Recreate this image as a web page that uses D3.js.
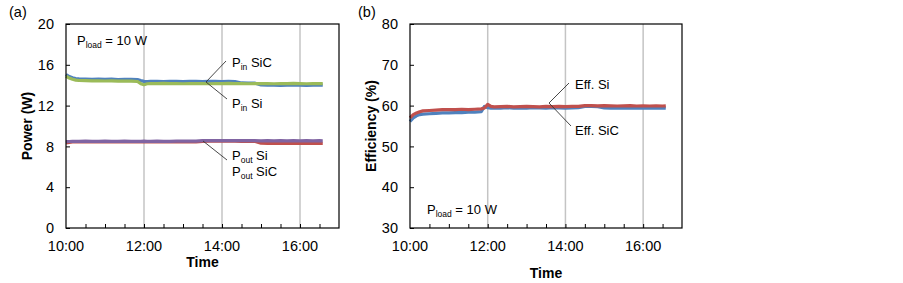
<!DOCTYPE html>
<html><head><meta charset="utf-8">
<script src="https://cdn.jsdelivr.net/npm/d3@7"></script>
<style>
body{margin:0;background:#fff;}
svg{font-family:"Liberation Sans",Arial,sans-serif;}
</style></head><body>
<svg id="c" width="903" height="283"></svg>
<script>
const times = ["10:00","10:05","10:10","10:15","10:20","10:30","10:40","10:50","11:00","11:10","11:20","11:30","11:40","11:50","11:55","12:00","12:05","12:10","12:20","12:30","12:40","12:50","13:00","13:10","13:20","13:30","13:40","13:50","14:00","14:10","14:20","14:30","14:40","14:50","15:00","15:10","15:20","15:30","15:40","15:50","16:00","16:10","16:20","16:30","16:35"];
const pinSiC = [15.05,14.85,14.72,14.66,14.62,14.60,14.58,14.60,14.57,14.59,14.56,14.58,14.57,14.55,14.45,14.38,14.36,14.38,14.37,14.36,14.38,14.37,14.36,14.37,14.38,14.36,14.37,14.38,14.36,14.37,14.36,14.22,14.20,14.21,14.02,14.00,14.01,13.99,14.00,14.01,14.00,13.99,14.01,14.00,14.00];
const pinSi  = [14.90,14.70,14.58,14.50,14.46,14.44,14.42,14.43,14.41,14.42,14.40,14.41,14.40,14.36,14.15,14.05,14.14,14.16,14.15,14.17,14.15,14.16,14.14,14.15,14.16,14.15,14.14,14.16,14.15,14.17,14.15,14.16,14.14,14.15,14.16,14.15,14.14,14.16,14.15,14.17,14.15,14.14,14.16,14.15,14.15];
const poutSi  = [8.35,8.40,8.44,8.45,8.45,8.46,8.45,8.44,8.45,8.46,8.45,8.45,8.44,8.45,8.45,8.46,8.45,8.45,8.44,8.45,8.46,8.45,8.45,8.44,8.45,8.50,8.52,8.51,8.52,8.51,8.52,8.50,8.51,8.50,8.31,8.30,8.31,8.30,8.30,8.31,8.30,8.30,8.31,8.30,8.30];
const poutSiC = [8.46,8.48,8.50,8.50,8.50,8.51,8.50,8.50,8.51,8.50,8.50,8.51,8.50,8.50,8.50,8.51,8.50,8.50,8.51,8.50,8.50,8.51,8.52,8.51,8.52,8.56,8.57,8.56,8.56,8.57,8.56,8.56,8.57,8.56,8.55,8.56,8.55,8.56,8.55,8.56,8.55,8.56,8.55,8.56,8.55];
const effSi  = [57.0,57.8,58.2,58.5,58.7,58.8,58.9,59.0,59.0,59.0,59.1,59.0,59.1,59.2,59.4,60.3,59.8,59.7,59.75,59.8,59.7,59.75,59.8,59.75,59.7,59.8,59.75,59.8,59.75,59.8,59.8,60.0,60.0,59.95,60.0,59.95,59.9,59.95,60.0,59.9,59.95,59.9,59.95,59.9,59.95];
const effSiC = [56.1,57.0,57.5,57.8,57.9,58.0,58.1,58.2,58.2,58.3,58.3,58.4,58.4,58.5,59.8,59.5,59.4,59.45,59.4,59.5,59.4,59.45,59.4,59.5,59.45,59.4,59.5,59.45,59.4,59.45,59.5,59.8,59.8,59.75,59.45,59.4,59.45,59.4,59.45,59.4,59.4,59.45,59.4,59.45,59.4];
const xDomain = ["10:00","17:00"];
const xTickLabels = ["10:00","12:00","14:00","16:00"];
const powerTicks = [0,4,8,12,16,20];
const effTicks = [30,40,50,60,70,80];

const parse = d3.timeParse("%H:%M");
const svg = d3.select("#c");
const colors = {blue:"#4F81BD", green:"#9BBB59", red:"#C0504D", purple:"#8064A2"};
const TICKFS = 14.5;

function panel(opt){
  const g = svg.append("g");
  const x = d3.scaleTime().domain(xDomain.map(parse)).range([opt.x0, opt.x1]);
  const y = d3.scaleLinear().domain(opt.yDomain).range([opt.y1, opt.y0]);
  g.selectAll(".grid").data(xTickLabels.slice(1).map(parse)).join("line")
    .attr("x1", d=>x(d)).attr("x2", d=>x(d)).attr("y1", opt.y0).attr("y2", opt.y1)
    .attr("stroke","#c4c4c4").attr("stroke-width",1.5);
  const line = d3.line().x((d,i)=>x(parse(times[i]))).y(d=>y(d));
  opt.series.forEach(s=>{
    g.append("path").datum(s.v).attr("d", line).attr("fill","none")
      .attr("stroke", s.c).attr("stroke-width",3.2).attr("stroke-linejoin","round");
  });
  const yAx = d3.axisLeft(y).tickValues(opt.yTicks).tickSize(-4).tickPadding(12);
  const ya = g.append("g").attr("transform",`translate(${opt.x0},0)`).call(yAx);
  const minor = d3.timeMinute.every(30).range(parse("10:00"), parse("17:00")).slice(1);
  const xAx = d3.axisBottom(x).tickValues(minor).tickSize(-4).tickFormat("");
  const xa = g.append("g").attr("transform",`translate(0,${opt.y1})`).call(xAx);
  [ya,xa].forEach(a=>{a.select(".domain").remove(); a.selectAll("line").attr("stroke","#000").attr("stroke-width",1);
    a.selectAll("text").attr("font-size",TICKFS).attr("fill","#000").attr("font-family","Liberation Sans, Arial, sans-serif");});
  g.selectAll(".xl").data(xTickLabels).join("text")
    .attr("x", d=>x(parse(d))).attr("y", opt.y1+23).attr("text-anchor","middle")
    .attr("font-size",TICKFS).text(d=>d);
  g.append("rect").attr("x",opt.x0).attr("y",opt.y0).attr("width",opt.x1-opt.x0).attr("height",opt.y1-opt.y0)
    .attr("fill","none").attr("stroke","#000").attr("stroke-width",1.2);
  g.append("text").attr("x",(opt.x0+opt.x1)/2).attr("y",opt.timeY).attr("text-anchor","middle")
    .attr("font-size",14).attr("font-weight","bold").text("Time");
  g.append("text").attr("transform",`translate(${opt.titleX},${(opt.y0+opt.y1)/2}) rotate(-90)`)
    .attr("text-anchor","middle").attr("font-size",14).attr("font-weight","bold").text(opt.title);
  g.append("text").attr("x",opt.tagX).attr("y",17).attr("font-size",14.5).text(opt.tag);
  const pt = g.append("text").attr("x",opt.ploadX).attr("y",opt.ploadY).attr("font-size",13);
  pt.append("tspan").text("P");
  pt.append("tspan").attr("font-size",8.5).attr("dy",3).text("load");
  pt.append("tspan").attr("dy",-3).text(" = 10 W");
  opt.ann.forEach(a=>{
    a.to.forEach(t=>{
      g.append("line").attr("x1",a.from[0]).attr("y1",a.from[1]).attr("x2",t[0]).attr("y2",t[1])
        .attr("stroke","#333").attr("stroke-width",0.9);
    });
    a.labels.forEach(l=>{
      const tx = g.append("text").attr("x",l.x).attr("y",l.y).attr("font-size",13);
      tx.append("tspan").text(l.main);
      if(l.sub){ tx.append("tspan").attr("font-size",8.5).attr("dy",3).text(l.sub);
        tx.append("tspan").attr("dy",-3).text(" "+l.rest); }
    });
  });
}

panel({x0:66,x1:339,y0:24,y1:228,yDomain:[0,20],yTicks:powerTicks,
  title:"Power (W)",titleX:32,timeY:267,tag:"(a)",tagX:9,ploadX:77,ploadY:45,
  series:[{v:pinSiC,c:colors.blue},{v:pinSi,c:colors.green},{v:poutSi,c:colors.red},{v:poutSiC,c:colors.purple}],
  ann:[
    {from:[206,82],to:[[226,61],[227,99]],labels:[{x:232,y:67,main:"P",sub:"in",rest:"SiC"},{x:232,y:108,main:"P",sub:"in",rest:"Si"}]},
    {from:[203,141],to:[[227,160]],labels:[{x:232,y:160,main:"P",sub:"out",rest:"Si"},{x:232,y:176,main:"P",sub:"out",rest:"SiC"}]}
  ]});

panel({x0:410,x1:682,y0:24,y1:228,yDomain:[30,80],yTicks:effTicks,
  title:"Efficiency (%)",titleX:376,timeY:278,tag:"(b)",tagX:358,ploadX:427,ploadY:214,
  series:[{v:effSiC,c:colors.blue},{v:effSi,c:colors.red}],
  ann:[
    {from:[549,103],to:[[569,83],[571,126]],labels:[{x:575,y:89,main:"Eff. Si"},{x:575,y:135,main:"Eff. SiC"}]}
  ]});
</script>
</body></html>
